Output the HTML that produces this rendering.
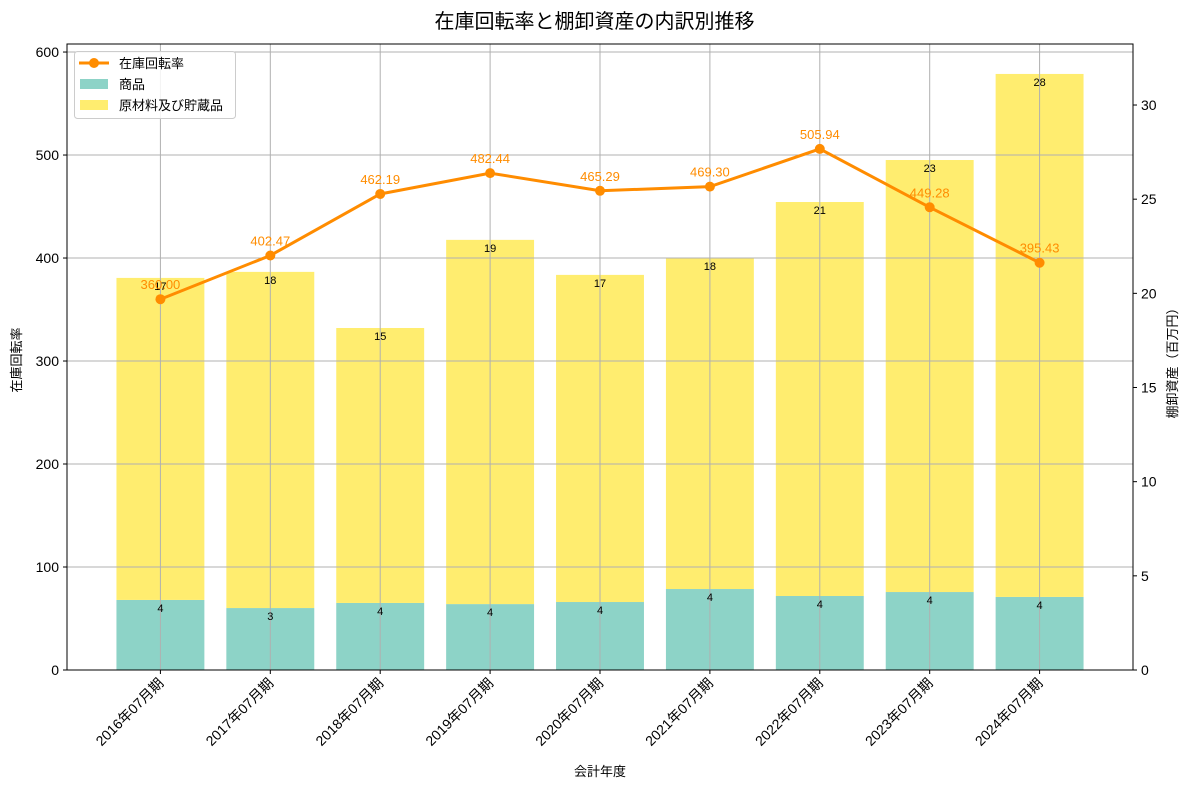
<!DOCTYPE html>
<html><head><meta charset="utf-8"><style>
body{margin:0;background:#fff;}
svg text{font-family:"Liberation Sans","Noto Sans CJK JP",sans-serif;}
</style></head><body>
<svg id="c" width="1189" height="788" xmlns="http://www.w3.org/2000/svg"></svg>
<script>
const categories=["2016年07月期","2017年07月期","2018年07月期","2019年07月期","2020年07月期","2021年07月期","2022年07月期","2023年07月期","2024年07月期"];
const turnover=[360.00,402.47,462.19,482.44,465.29,469.30,505.94,449.28,395.43];
const goods=[3.72,3.29,3.56,3.5,3.61,4.3,3.93,4.14,3.88];
const materials=[17.1,17.85,14.6,19.34,17.37,17.58,20.92,22.94,27.77];
const goodsLabels=["4","3","4","4","4","4","4","4","4"];
const matLabels=["17","18","15","19","17","18","21","23","28"];
const leftTicks=[0,100,200,300,400,500,600];
const rightTicks=[0,5,10,15,20,25,30];

const svg=document.getElementById('c');
const NS="http://www.w3.org/2000/svg";
const L=67,R=1133,T=44,B=670;
const xs=i=>L+(i+0.85)/9.7*(R-L);
const yl=v=>B-v/607.8*(B-T);
const yr=v=>B-v/33.24*(B-T);
function mk(tag,attrs,parent){const e=document.createElementNS(NS,tag);for(const k in attrs)e.setAttribute(k,attrs[k]);(parent||svg).appendChild(e);return e;}
function tx(x,y,s,attrs){const e=mk('text',Object.assign({x:x,y:y},attrs||{}));e.textContent=s;return e;}

const title=tx(594.5,28,"在庫回転率と棚卸資産の内訳別推移",{"text-anchor":"middle","font-size":"20"});



const bw=88/110*(xs(1)-xs(0));
categories.forEach((c,i)=>{
  const x=xs(i);
  const g=mk('rect',{x:x-bw/2,y:yr(goods[i]),width:bw,height:B-yr(goods[i]),fill:"#8dd3c7"});
  
  
  const top=goods[i]+materials[i];
  const m=mk('rect',{x:x-bw/2,y:yr(top),width:bw,height:yr(goods[i])-yr(top),fill:"#ffed6f"});
  
  
});
// grid
leftTicks.forEach(v=>{const l=mk('line',{x1:L,x2:R,y1:yl(v),y2:yl(v),stroke:"#b0b0b0","stroke-width":1});});
categories.forEach((c,i)=>{const l=mk('line',{x1:xs(i),x2:xs(i),y1:T,y2:B,stroke:"#b0b0b0","stroke-width":1});});
// bar labels
categories.forEach((c,i)=>{
  const a=tx(xs(i),yr(goods[i])+12,goodsLabels[i],{"text-anchor":"middle","font-size":"11"});
  
  const b=tx(xs(i),yr(goods[i]+materials[i])+12,matLabels[i],{"text-anchor":"middle","font-size":"11"});
  
});
// line
const pts=turnover.map((v,i)=>xs(i)+","+yl(v)).join(" ");
const pl=mk('polyline',{points:pts,fill:"none",stroke:"#ff8c00","stroke-width":3});

turnover.forEach((v,i)=>{
  const c=mk('circle',{cx:xs(i),cy:yl(v),r:5,fill:"#ff8c00"});
  
  const t=tx(xs(i),yl(v)-10,v.toFixed(2),{"text-anchor":"middle","font-size":"13",fill:"#ff8c00"});
  
});
// frame
const fr=mk('rect',{x:L,y:T,width:R-L,height:B-T,fill:"none",stroke:"#000","stroke-width":1});

// ticks
leftTicks.forEach(v=>{mk('line',{x1:L-4,x2:L,y1:yl(v),y2:yl(v),stroke:"#000"});
  const t=tx(L-8,yl(v)+5,String(v),{"text-anchor":"end","font-size":"14"});});
rightTicks.forEach(v=>{mk('line',{x1:R,x2:R+4,y1:yr(v),y2:yr(v),stroke:"#000"});
  const t=tx(R+8,yr(v)+5,String(v),{"font-size":"14"});});
categories.forEach((c,i)=>{mk('line',{x1:xs(i),x2:xs(i),y1:B,y2:B+4,stroke:"#000"});
  const t=tx(xs(i)+4,B+14,c,{"text-anchor":"end","font-size":"14",transform:`rotate(-45 ${xs(i)+4} ${B+14})`});
  });
const xt=tx(600,776,"会計年度",{"text-anchor":"middle","font-size":"13"});
const ylt=tx(21,360,"在庫回転率",{"text-anchor":"middle","font-size":"13",transform:"rotate(-90 21 360)"});
const yrt=tx(1177,360,"棚卸資産（百万円）",{"text-anchor":"middle","font-size":"13",transform:"rotate(-90 1177 360)"});
// legend
const lg=mk('g',{});
mk('rect',{x:74.5,y:51.5,width:161,height:67,rx:3,fill:"#fff","fill-opacity":0.85,stroke:"#ccc"},lg);
mk('line',{x1:79,x2:109,y1:63,y2:63,stroke:"#ff8c00","stroke-width":3},lg);
mk('circle',{cx:94,cy:63,r:5,fill:"#ff8c00"},lg);
tx(119,68,"在庫回転率",{"font-size":"13"});
mk('rect',{x:80,y:79,width:28,height:10,fill:"#8dd3c7"},lg);
tx(119,89,"商品",{"font-size":"13"});
mk('rect',{x:80,y:100,width:28,height:10,fill:"#ffed6f"},lg);
tx(119,110,"原材料及び貯蔵品",{"font-size":"13"});
</script>
</body></html>
